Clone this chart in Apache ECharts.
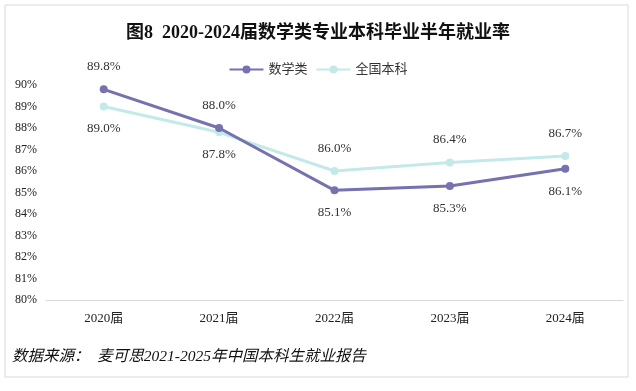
<!DOCTYPE html>
<html><head><meta charset="utf-8">
<script src="https://cdn.jsdelivr.net/npm/echarts@6/dist/echarts.min.js"></script>
<style>html,body{margin:0;padding:0;background:#fff}#c{width:636px;height:391px}</style>
</head><body><div id="c"></div>
<script>
const categories = ['2020届','2021届','2022届','2023届','2024届'];
const mathValues = [89.8, 88.0, 85.1, 85.3, 86.1];
const nationalValues = [89.0, 87.8, 86.0, 86.4, 86.7];
const mathLabelPos = ['top','top','bottom','bottom','bottom'];
const nationalLabelPos = ['bottom','bottom','top','top','top'];
const seriesNames = ['数学类','全国本科'];
const titleText = '图8  2020-2024届数学类专业本科毕业半年就业率';
const sourceText = '数据来源：  麦可思2021-2025年中国本科生就业报告';

const serif = '"Liberation Serif","Noto Sans CJK SC",serif';
const chart = echarts.init(document.getElementById('c'));
function mk(vals, pos){
  return vals.map((v,i)=>({value:v, label:{position:pos[i]}}));
}
chart.setOption({
  animation:false,
  title:{text:titleText,left:'center',top:19,textStyle:{fontFamily:serif,fontSize:18,fontWeight:'bold',color:'#111'}},
  legend:{top:58,left:'center',itemWidth:34,itemHeight:10,itemGap:8,
    textStyle:{fontFamily:serif,fontSize:13,color:'#333'},data:seriesNames},
  grid:{left:46,right:13,top:85,bottom:91},
  xAxis:{type:'category',data:categories,boundaryGap:true,
    axisLine:{lineStyle:{color:'#d9d9d9'}},axisTick:{show:false},
    axisLabel:{fontFamily:serif,fontSize:13,color:'#222',margin:12}},
  yAxis:{type:'value',min:80,max:90,interval:1,
    axisLine:{show:false},axisTick:{show:false},splitLine:{show:false},
    axisLabel:{fontFamily:serif,fontSize:12,color:'#222',margin:9,formatter:'{value}%'}},
  series:[
    {name:seriesNames[0],type:'line',data:mk(mathValues,mathLabelPos),symbol:'circle',symbolSize:8,
      lineStyle:{width:3,color:'#7572AF'},itemStyle:{color:'#7572AF'},z:3,
      label:{show:true,distance:12,fontFamily:serif,fontSize:13,color:'#333',formatter:p=>p.value.toFixed(1)+'%'}},
    {name:seriesNames[1],type:'line',data:mk(nationalValues,nationalLabelPos),symbol:'circle',symbolSize:8,
      lineStyle:{width:3,color:'#C4E9E9'},itemStyle:{color:'#C4E9E9'},z:2,
      label:{show:true,distance:12,fontFamily:serif,fontSize:13,color:'#333',formatter:p=>p.value.toFixed(1)+'%'}}
  ],
  graphic:[
    {type:'rect',shape:{x:5,y:5,width:623,height:372},style:{fill:'none',stroke:'#d9d9d9',lineWidth:1},silent:true},
    {type:'text',left:12,top:349,style:{text:sourceText,fontFamily:serif,fontSize:15.5,fontStyle:'italic',fill:'#111'}}
  ]
});
</script></body></html>
